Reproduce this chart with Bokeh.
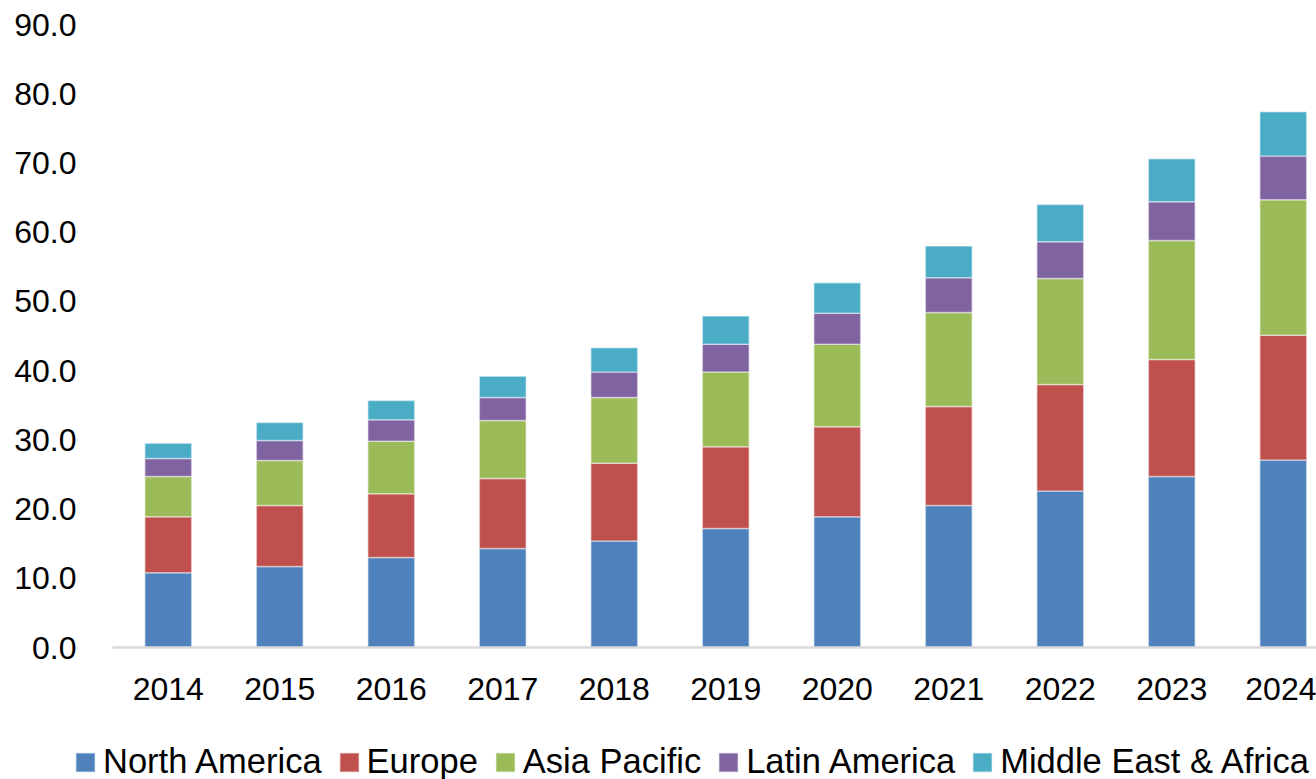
from bokeh.plotting import figure
from bokeh.models import Range1d, FixedTicker, NumeralTickFormatter, Legend, LegendItem
from bokeh.embed import file_html
from bokeh.resources import INLINE

years = [2014, 2015, 2016, 2017, 2018, 2019, 2020, 2021, 2022, 2023, 2024]
year_labels = ["2014", "2015", "2016", "2017", "2018", "2019", "2020", "2021", "2022", "2023", "2024"]
north_america = [10.8, 11.7, 13.0, 14.3, 15.4, 17.2, 18.9, 20.5, 22.6, 24.7, 27.1]
europe = [8.1, 8.8, 9.2, 10.1, 11.2, 11.8, 13.0, 14.3, 15.4, 16.9, 18.0]
asia_pacific = [5.8, 6.5, 7.6, 8.4, 9.5, 10.8, 11.9, 13.6, 15.3, 17.2, 19.6]
latin_america = [2.6, 2.9, 3.1, 3.3, 3.7, 4.0, 4.5, 5.0, 5.3, 5.6, 6.3]
middle_east_africa = [2.2, 2.6, 2.8, 3.1, 3.5, 4.1, 4.4, 4.6, 5.4, 6.2, 6.4]
y_ticks = [0, 10, 20, 30, 40, 50, 60, 70, 80, 90]
series_names = ["North America", "Europe", "Asia Pacific", "Latin America", "Middle East & Africa"]
series_keys = ["na", "eu", "ap", "la", "mea"]
colors = ["#4F81BD", "#C0504D", "#9BBB59", "#8064A2", "#4BACC6"]

FONT = "Liberation Sans"

data = dict(x=years, na=north_america, eu=europe, ap=asia_pacific,
            la=latin_america, mea=middle_east_africa)

# layout (pixels): plot area from x=112, value 0 at y=647, value 90 at y=24
W, H = 1316, 779
left_px, zero_px, top_px = 112, 647, 24
px_per_year = 111.5
px_per_unit = (zero_px - top_px) / 90.0

x0 = years[0] - 0.5
x_start = x0 - left_px / px_per_year
x_end = x0 + (W - left_px) / px_per_year
y_start = -(H - zero_px) / px_per_unit
y_end = 90 + top_px / px_per_unit

p = figure(width=W, height=H, output_backend="svg", toolbar_location=None,
           x_range=Range1d(x_start, x_end), y_range=Range1d(y_start, y_end),
           min_border=0)
p.outline_line_color = None
p.xgrid.visible = False
p.ygrid.visible = False
p.background_fill_color = "white"
p.border_fill_color = "white"

renderers = p.vbar_stack(series_keys, x="x", width=0.42, source=data,
                         color=colors, line_color="white", line_alpha=0.45,
                         line_width=1.5)

# y axis (drawn inside the canvas at the plot-area's left edge)
p.yaxis.fixed_location = x0
p.yaxis.ticker = FixedTicker(ticks=y_ticks)
p.yaxis.formatter = NumeralTickFormatter(format="0.0")
p.yaxis.axis_line_color = None
p.yaxis.major_tick_line_color = None
p.yaxis.minor_tick_line_color = None
p.yaxis.major_label_standoff = 30
p.yaxis.major_label_text_font = FONT
p.yaxis.major_label_text_font_size = "32px"
p.yaxis.major_label_text_color = "#000000"

# x axis at value 0
p.xaxis.fixed_location = 0
p.xaxis.bounds = (x0, x_end)
p.xaxis.ticker = FixedTicker(ticks=years)
p.xaxis.major_label_overrides = {y: l for y, l in zip(years, year_labels)}
p.xaxis.axis_line_color = "#d9d9d9"
p.xaxis.axis_line_width = 2.5
p.xaxis.major_tick_line_color = None
p.xaxis.minor_tick_line_color = None
p.xaxis.major_label_standoff = 24
p.xaxis.major_label_text_font = FONT
p.xaxis.major_label_text_font_size = "32px"
p.xaxis.major_label_text_color = "#000000"

items = [LegendItem(label=n, renderers=[r]) for n, r in zip(series_names, renderers)]
legend = Legend(items=items, orientation="horizontal", location=(73, -2),
                glyph_width=24, glyph_height=24, label_standoff=6, spacing=15,
                padding=0, margin=0, border_line_color=None,
                background_fill_alpha=0,
                label_text_font=FONT, label_text_font_size="34.5px",
                label_text_color="#000000")
p.add_layout(legend)

open("out.html", "w").write(file_html(p, INLINE))
